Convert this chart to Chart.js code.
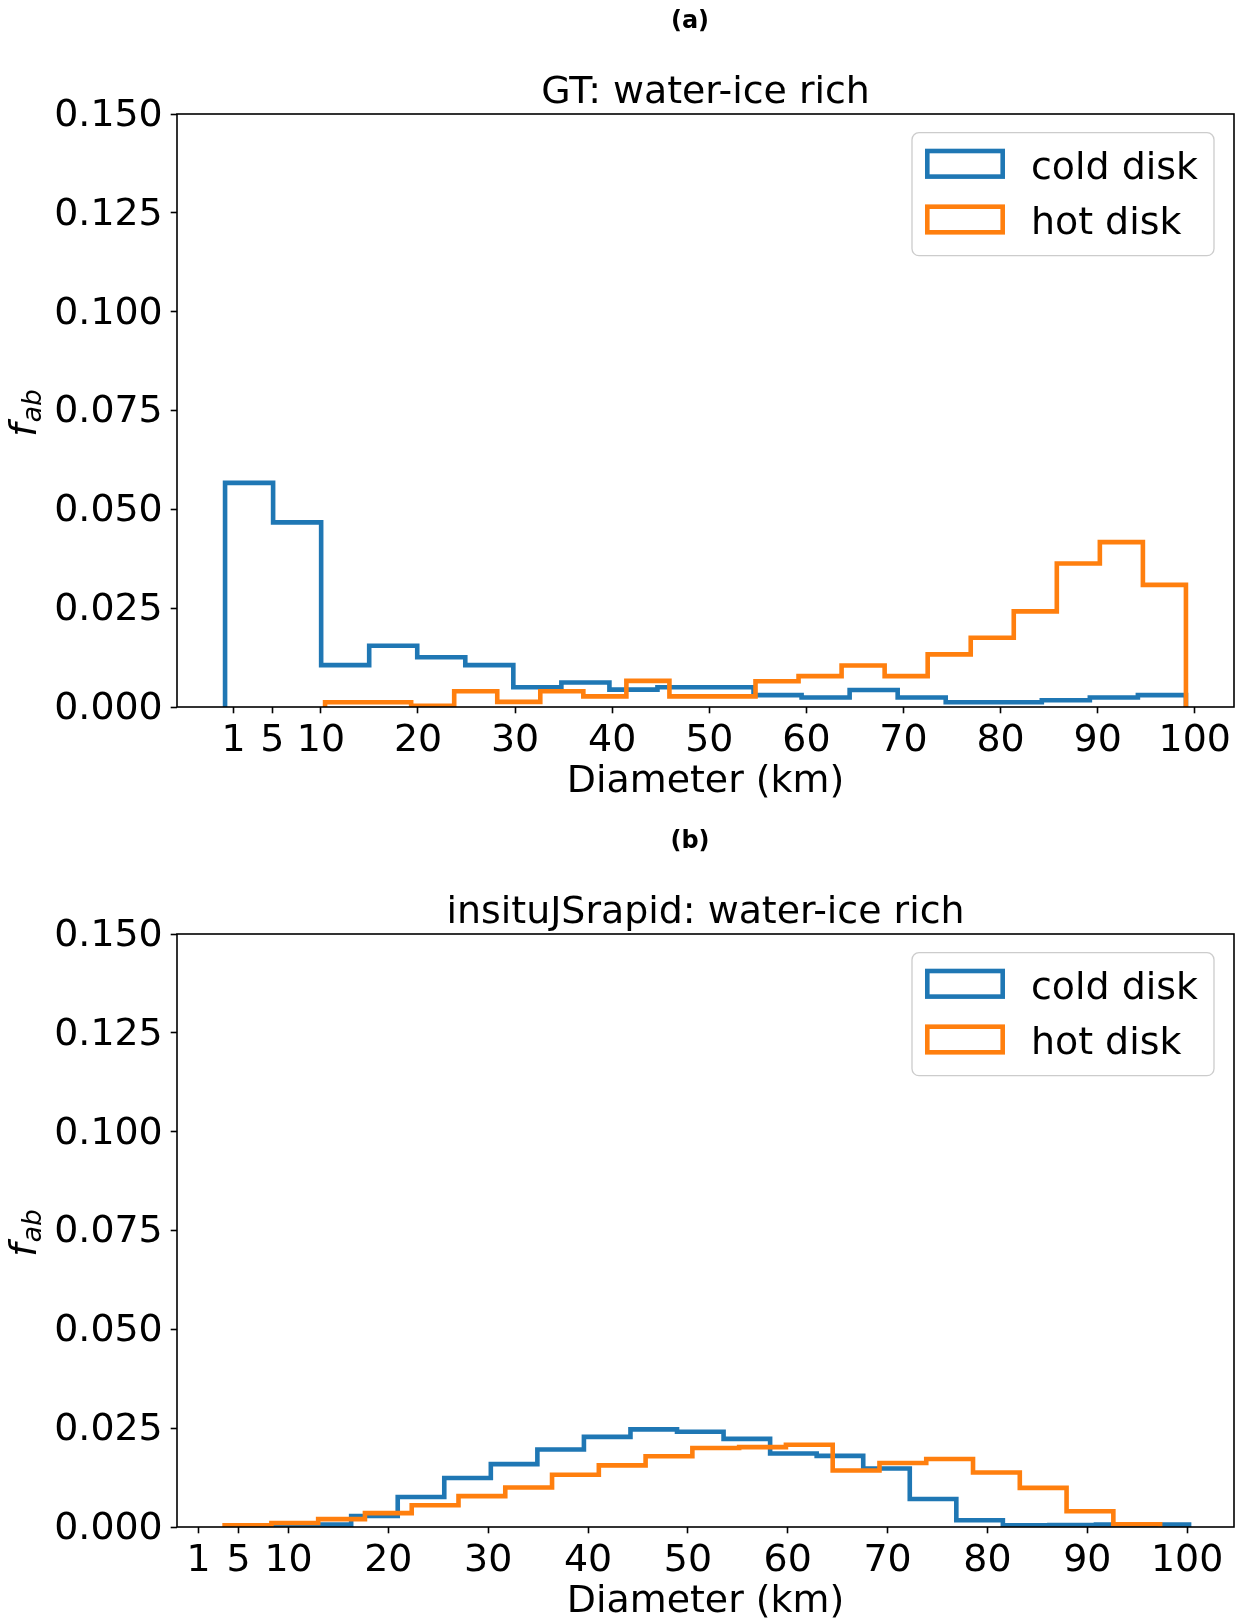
<!DOCTYPE html>
<html>
<head>
<meta charset="utf-8">
<title>Diameter distributions</title>
<script src="https://cdn.jsdelivr.net/npm/chart.js@4.4.1/dist/chart.umd.min.js"></script>
<style>
  html, body { margin: 0; padding: 0; background: #fff; }
  #page { position: relative; width: 1238px; height: 1622px; background: #fff; }
  canvas { position: absolute; left: 0; }
</style>
</head>
<body>
<div id="page">
  <canvas id="panelA" width="1238" height="802" style="top:0"></canvas>
  <canvas id="panelB" width="1238" height="802" style="top:820px"></canvas>
</div>
<script>
// fraction per diameter bin, 20 equal bins over each range (km)
const coldRangeA = [0.13, 99.09];
const coldValuesA = [0.0567, 0.0467, 0.0106, 0.0155, 0.0126, 0.0106, 0.0050, 0.0062, 0.0044, 0.0050,
                     0.0050, 0.0030, 0.0024, 0.0043, 0.0024, 0.0012, 0.0012, 0.0017, 0.0024, 0.0030];
const hotRangeA = [10.43, 99.09];
const hotValuesA = [0.0012, 0.0012, 0.0003, 0.0040, 0.0013, 0.0040, 0.0027, 0.0066, 0.0027, 0.0027,
                    0.0065, 0.0078, 0.0105, 0.0078, 0.0133, 0.0175, 0.0242, 0.0363, 0.0417, 0.0309];

const coldRangeB = [6.95, 100.2];
const coldValuesB = [0.0001, 0.0006, 0.0028, 0.0076, 0.0124, 0.0159, 0.0196, 0.0228, 0.0247, 0.0241,
                     0.0223, 0.0186, 0.0180, 0.0148, 0.0071, 0.0017, 0.0004, 0.0005, 0.0006, 0.0006];
const hotRangeB = [3.6, 97.3];
const hotValuesB = [0.0004, 0.0010, 0.0020, 0.0035, 0.0055, 0.0078, 0.0100, 0.0132, 0.0156, 0.0179,
                    0.0200, 0.0202, 0.0208, 0.0143, 0.0162, 0.0172, 0.0138, 0.0099, 0.0040, 0.0007];

const xLimitsA = [-4.82, 104.04];
const xLimitsB = [-1.17, 104.7];
const xTickValues = [1, 5, 10, 20, 30, 40, 50, 60, 70, 80, 90, 100];
const yTickValues = [0, 0.025, 0.05, 0.075, 0.1, 0.125, 0.15];
const seriesLabels = ['cold disk', 'hot disk'];

const FONT = 'DejaVu Sans';
const FS = 37.9;
const BLUE = '#1f77b4';
const ORANGE = '#ff7f0e';

// outline of a step histogram: drops to zero at both outer edges
function stepOutline(range, values) {
    const n = values.length;
    const w = (range[1] - range[0]) / n;
    const pts = [{ x: range[0], y: 0 }];
    values.forEach((v, i) => {
        pts.push({ x: range[0] + i * w, y: v });
        pts.push({ x: range[0] + (i + 1) * w, y: v });
    });
    pts.push({ x: range[1], y: 0 });
    return pts;
}

// full box around the plot area
const axesFrame = {
    id: 'axesFrame',
    afterDraw(chart) {
        const { ctx, chartArea: a } = chart;
        ctx.save();
        ctx.strokeStyle = '#000';
        ctx.lineWidth = 1.6;
        ctx.strokeRect(a.left, a.top, a.right - a.left, a.bottom - a.top);
        ctx.restore();
    }
};

// legend box in the upper right corner of the axes
const boxLegend = {
    id: 'boxLegend',
    afterDraw(chart) {
        const { ctx, chartArea: a } = chart;
        const w = 302, h = 123, r = 7;
        const x0 = a.right - 20 - w, y0 = a.top + 18.7;
        ctx.save();
        ctx.beginPath();
        ctx.roundRect(x0, y0, w, h, r);
        ctx.fillStyle = 'rgba(255,255,255,0.8)';
        ctx.fill();
        ctx.lineWidth = 1.3;
        ctx.strokeStyle = '#cccccc';
        ctx.stroke();
        chart.data.datasets.forEach((ds, i) => {
            const cy = y0 + 31.1 + i * 55.7;
            ctx.lineWidth = ds.borderWidth;
            ctx.lineJoin = 'miter';
            ctx.strokeStyle = ds.borderColor;
            ctx.strokeRect(x0 + 15.3, cy - 12.8, 75.4, 25.6);
            ctx.fillStyle = '#000';
            ctx.font = FS + 'px "' + FONT + '"';
            ctx.textAlign = 'left';
            ctx.textBaseline = 'middle';
            ctx.fillText(ds.label, x0 + 119, cy + 5);
        });
        ctx.restore();
    }
};

// panel letter above the title
const panelTag = {
    id: 'panelTag',
    afterDraw(chart, args, opts) {
        const { ctx } = chart;
        ctx.save();
        ctx.font = 'bold 24px "' + FONT + '"';
        ctx.fillStyle = '#000';
        ctx.textAlign = 'center';
        ctx.textBaseline = 'middle';
        ctx.fillText(opts.text, 690, 22);
        ctx.restore();
    }
};

// y axis label f_ab, italic with subscript
const yLabel = {
    id: 'yLabel',
    afterDraw(chart) {
        const { ctx, chartArea: a } = chart;
        ctx.save();
        ctx.translate(36, (a.top + a.bottom) / 2 + 3);
        ctx.rotate(-Math.PI / 2);
        ctx.fillStyle = '#000';
        ctx.textBaseline = 'alphabetic';
        ctx.textAlign = 'left';
        const big = 'italic ' + FS + 'px "' + FONT + '"';
        const small = 'italic ' + (FS * 0.7).toFixed(1) + 'px "' + FONT + '"';
        ctx.font = big;
        const wf = ctx.measureText('f').width;
        ctx.font = small;
        const wab = ctx.measureText('ab').width;
        const x = -(wf + wab) / 2;
        ctx.font = big;
        ctx.fillText('f', x, 0);
        ctx.font = small;
        ctx.fillText('ab', x + wf + 1, 5);
        ctx.restore();
    }
};

function makePanel(canvasId, tag, title, xLimits, cold, hot) {
    const tickFont = { family: FONT, size: FS };
    return new Chart(document.getElementById(canvasId), {
        type: 'line',
        data: {
            datasets: [
                {
                    label: seriesLabels[0],
                    data: stepOutline(cold.range, cold.values),
                    borderColor: BLUE,
                    borderWidth: 4.6,
                    borderJoinStyle: 'miter',
                    borderCapStyle: 'butt',
                    pointRadius: 0,
                    fill: false,
                    order: 1
                },
                {
                    label: seriesLabels[1],
                    data: stepOutline(hot.range, hot.values),
                    borderColor: ORANGE,
                    borderWidth: 4.6,
                    borderJoinStyle: 'miter',
                    borderCapStyle: 'butt',
                    pointRadius: 0,
                    fill: false,
                    order: 0
                }
            ]
        },
        options: {
            responsive: false,
            animation: false,
            devicePixelRatio: 1,
            layout: { padding: { left: 0, right: 4, top: 0, bottom: 0 } },
            plugins: {
                legend: { display: false },
                tooltip: { enabled: false },
                title: {
                    display: true,
                    text: title,
                    fullSize: false,
                    color: '#000',
                    font: { family: FONT, size: FS, weight: 'normal', lineHeight: 42 / FS },
                    padding: { top: 72, bottom: 0 }
                },
                panelTag: { text: tag }
            },
            scales: {
                x: {
                    type: 'linear',
                    min: xLimits[0],
                    max: xLimits[1],
                    afterBuildTicks: s => { s.ticks = xTickValues.map(v => ({ value: v })); },
                    afterFit: s => { s.height = 95; },
                    border: { display: false },
                    grid: { drawOnChartArea: false, drawTicks: true, tickLength: 6.3, tickWidth: 1.6, tickColor: '#000' },
                    ticks: { color: '#000', font: tickFont, padding: 5, autoSkip: false, maxRotation: 0,
                             callback: v => String(v) },
                    title: { display: true, text: 'Diameter (km)', color: '#000',
                             font: { family: FONT, size: FS, lineHeight: 1.05 },
                             padding: { top: 0, bottom: 0 } }
                },
                y: {
                    type: 'linear',
                    min: 0,
                    max: 0.15,
                    afterBuildTicks: s => { s.ticks = yTickValues.map(v => ({ value: v })); },
                    afterFit: s => { s.width = 177; },
                    border: { display: false },
                    grid: { drawOnChartArea: false, drawTicks: true, tickLength: 6.3, tickWidth: 1.6, tickColor: '#000' },
                    ticks: { color: '#000', font: tickFont, padding: 8, labelOffset: 2, callback: v => v.toFixed(3) }
                }
            }
        },
        plugins: [axesFrame, boxLegend, panelTag, yLabel]
    });
}

makePanel('panelA', '(a)', 'GT: water-ice rich', xLimitsA,
    { range: coldRangeA, values: coldValuesA }, { range: hotRangeA, values: hotValuesA });
makePanel('panelB', '(b)', 'insituJSrapid: water-ice rich', xLimitsB,
    { range: coldRangeB, values: coldValuesB }, { range: hotRangeB, values: hotValuesB });
</script>
</body>
</html>
